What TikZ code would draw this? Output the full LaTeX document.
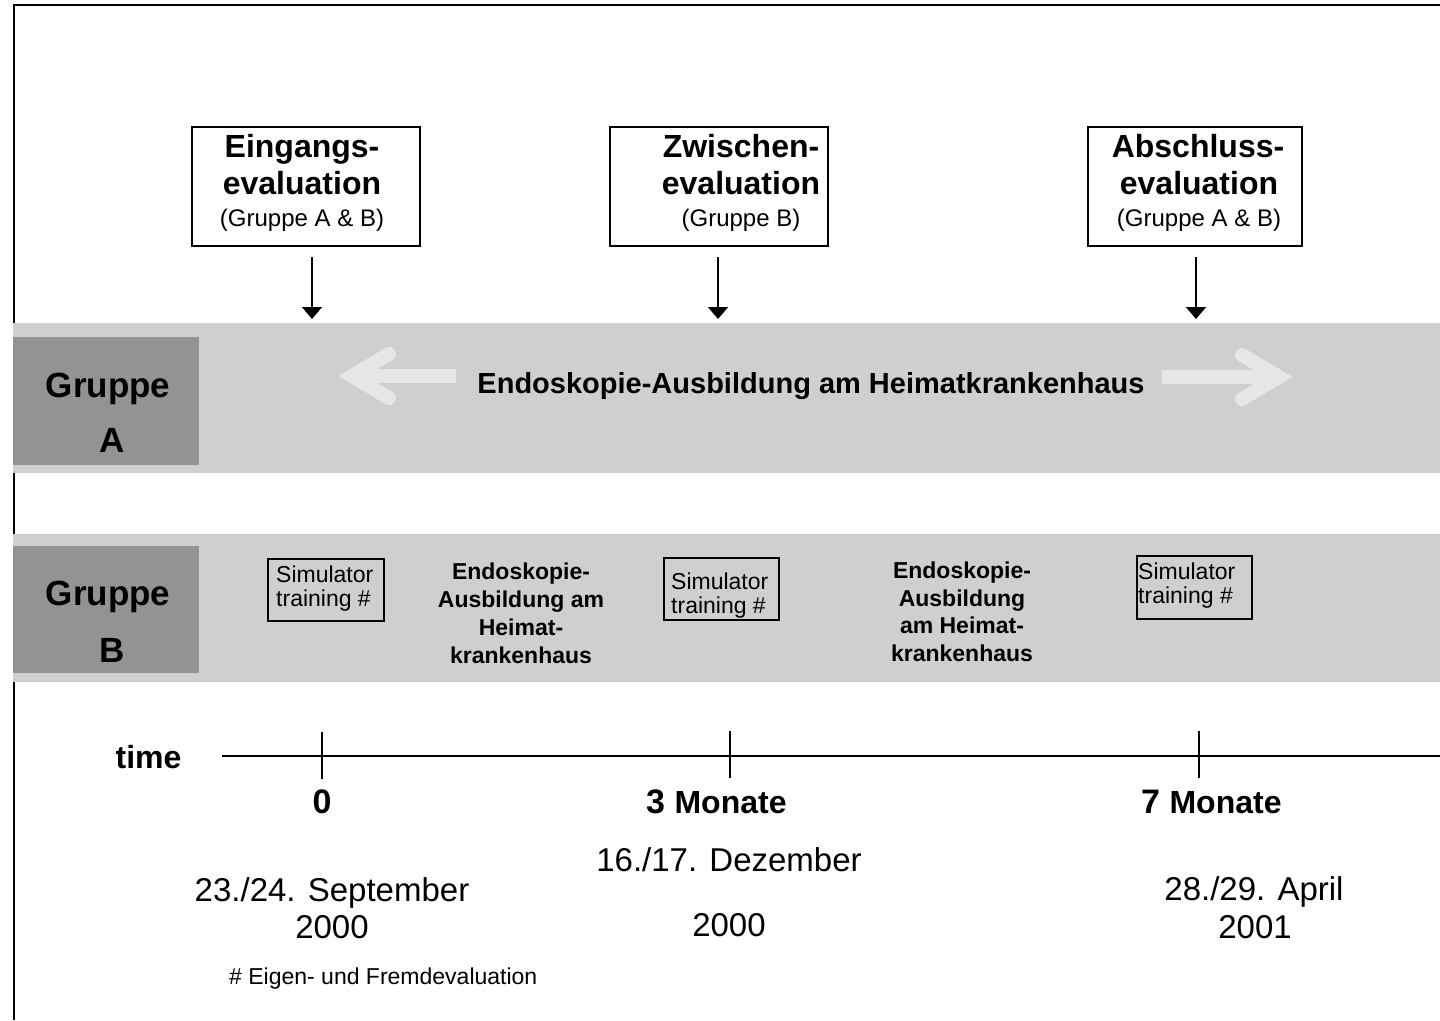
\documentclass[tikz,border=0pt]{standalone}
\usepackage{fontspec}
\setmainfont{Liberation Sans}
\usetikzlibrary{arrows.meta}
\definecolor{bandgrey}{HTML}{CFCFCF}
\definecolor{darkgrey}{HTML}{939393}
\definecolor{arrowgrey}{HTML}{E6E6E6}
\tikzset{
  txt/.style={inner sep=0pt, anchor=base},
  txtw/.style={inner sep=0pt, anchor=base west},
  bigbold/.style={font=\fontsize{32}{38}\selectfont\bfseries},
  grpbold/.style={font=\fontsize{35}{40}\selectfont\bfseries},
  subtxt/.style={font=\fontsize{24}{28}\selectfont},
  midbold/.style={font=\fontsize{29}{34}\selectfont\bfseries},
  smallbold/.style={font=\fontsize{23}{27}\selectfont\bfseries},
  simtxt/.style={font=\fontsize{23}{25}\selectfont},
  datetxt/.style={font=\fontsize{33}{37}\selectfont},
  foottxt/.style={font=\fontsize{23}{27}\selectfont},
  evalbox/.style={draw, line width=1.5pt, fill=white, inner sep=0pt},
  simbox/.style={draw, line width=2pt, inner sep=0pt},
  bandbox/.style={fill=bandgrey, inner sep=0pt, anchor=north west},
  grpbox/.style={fill=darkgrey, inner sep=0pt, anchor=north west},
  evalarrow/.style={line width=1.8pt, -{Triangle[width=20pt,length=12pt]}},
  bigarrow/.style={arrowgrey, line width=14pt},
  axisline/.style={line width=2pt},
}
\begin{document}
\begin{tikzpicture}[x=1pt,y=-1pt]
\useasboundingbox (0,0) rectangle (1440,1020);
\fill[white] (0,0) rectangle (1440,1020);
% frame
\draw[line width=2.5pt] (14,1020) -- (14,5) -- (1440,5);

% evaluation boxes
\node[evalbox, minimum width=228pt, minimum height=119pt] (e1) at (306,186.5) {};
\node[evalbox, minimum width=218pt, minimum height=119pt] (e2) at (719,186.5) {};
\node[evalbox, minimum width=214pt, minimum height=119pt] (e3) at (1195,186.5) {};

\node[txt, bigbold] (e1a) at (302,157) {Eingangs-};
\node[txt, bigbold] (e1b) at (302,194) {evaluation};
\node[txt, subtxt] (e1c) at (302,226) {(Gruppe A \& B)};
\node[txt, bigbold] (e2a) at (741,157) {Zwischen-};
\node[txt, bigbold] (e2b) at (741,194) {evaluation};
\node[txt, subtxt] (e2c) at (741,226) {(Gruppe B)};
\node[txt, bigbold] (e3a) at (1198,157) {Abschluss-};
\node[txt, bigbold] (e3b) at (1199,194) {evaluation};
\node[txt, subtxt] (e3c) at (1199,226) {(Gruppe A \& B)};

% arrows from evaluations
\coordinate (a1s) at (312,257); \coordinate (a1e) at (312,319);
\coordinate (a2s) at (718,257); \coordinate (a2e) at (718,319);
\coordinate (a3s) at (1196,257); \coordinate (a3e) at (1196,319);
\draw[evalarrow] (a1s) -- (a1e);
\draw[evalarrow] (a2s) -- (a2e);
\draw[evalarrow] (a3s) -- (a3e);

% band A
\node[bandbox, minimum width=1427pt, minimum height=150pt] (bandA) at (13,323) {};
\node[grpbox, minimum width=186pt, minimum height=128pt] (grpA) at (13,337) {};
\node[txt, grpbold] (gA1) at (108,397) {Gruppe};
\node[txt, grpbold] (gA2) at (112,452) {A};

% big light arrows
\draw[bigarrow] (456,376) -- (352,376);
\draw[bigarrow, line cap=round, line join=miter] (389,354) -- (352,376) -- (389,398);
\draw[bigarrow] (1162,377) -- (1279,377);
\draw[bigarrow, line cap=round, line join=miter] (1242,355) -- (1279,377) -- (1242,399);
\node[txt, midbold] (trainA) at (811,393) {Endoskopie-Ausbildung am Heimatkrankenhaus};

% band B
\node[bandbox, minimum width=1427pt, minimum height=148pt] (bandB) at (13,534) {};
\node[grpbox, minimum width=186pt, minimum height=127pt] (grpB) at (13,546) {};
\node[txt, grpbold] (gB1) at (108,605) {Gruppe};
\node[txt, grpbold] (gB2) at (112,662) {B};

\node[simbox, minimum width=116pt, minimum height=62pt] (s1) at (326,590) {};
\node[simbox, minimum width=115pt, minimum height=62pt] (s2) at (721.5,589) {};
\node[simbox, minimum width=115pt, minimum height=63pt] (s3) at (1194.5,587.5) {};
\node[txtw, simtxt] (s1a) at (276,582) {Simulator};
\node[txtw, simtxt] (s1b) at (276,606) {training \#};
\node[txtw, simtxt] (s2a) at (671,589) {Simulator};
\node[txtw, simtxt] (s2b) at (671,613) {training \#};
\node[txtw, simtxt] (s3a) at (1138,579) {Simulator};
\node[txtw, simtxt] (s3b) at (1138,603) {training \#};

\node[txt, smallbold] (b1a) at (521,579) {Endoskopie-};
\node[txt, smallbold] (b1b) at (521,607) {Ausbildung am};
\node[txt, smallbold] (b1c) at (521,635) {Heimat-};
\node[txt, smallbold] (b1d) at (521,663) {krankenhaus};
\node[txt, smallbold] (b2a) at (962,578) {Endoskopie-};
\node[txt, smallbold] (b2b) at (962,606) {Ausbildung};
\node[txt, smallbold] (b2c) at (962,633) {am Heimat-};
\node[txt, smallbold] (b2d) at (962,661) {krankenhaus};

% time axis
\node[txt, font=\fontsize{32}{36}\selectfont\bfseries] (time) at (148.5,768) {time};
\coordinate (ax0) at (222,756);
\coordinate (ax1) at (1440,756);
\draw[axisline] (ax0) -- (ax1);
\coordinate (t1a) at (322,732); \coordinate (t1b) at (322,779);
\coordinate (t2a) at (730,731); \coordinate (t2b) at (730,778);
\coordinate (t3a) at (1199,731); \coordinate (t3b) at (1199,778);
\draw[axisline] (t1a) -- (t1b);
\draw[axisline] (t2a) -- (t2b);
\draw[axisline] (t3a) -- (t3b);

\node[txt, font=\fontsize{34}{38}\selectfont\bfseries] (l0) at (322,813) {0};
\node[txtw, font=\fontsize{34}{38}\selectfont\bfseries] (l3) at (646,813) {3 {\fontsize{32}{36}\selectfont Monate}};
\node[txtw, font=\fontsize{34}{38}\selectfont\bfseries] (l7) at (1141,813) {7 {\fontsize{32}{36}\selectfont Monate}};

\node[txt, datetxt] (d1a) at (332,901) {23./24. September};
\node[txt, datetxt] (d1b) at (332,938) {2000};
\node[txt, datetxt] (d2a) at (729,871) {16./17. Dezember};
\node[txt, datetxt] (d2b) at (729,936) {2000};
\node[txt, datetxt] (d3a) at (1254,900) {28./29. April};
\node[txt, datetxt] (d3b) at (1255,938) {2001};

\node[txtw, foottxt] (foot) at (229,984) {\# Eigen- und Fremdevaluation};
\end{tikzpicture}
\end{document}
